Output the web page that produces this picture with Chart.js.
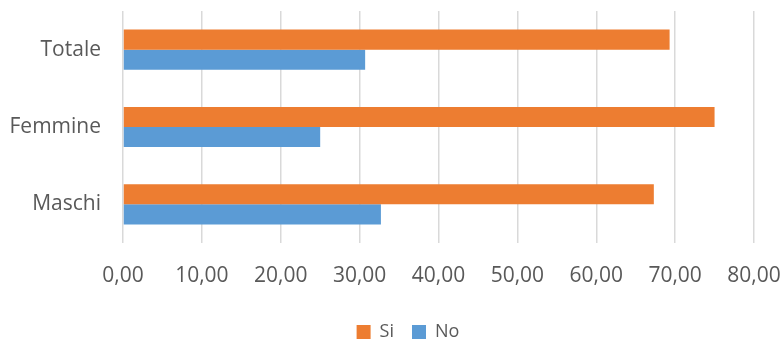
<!DOCTYPE html>
<html>
<head>
<meta charset="utf-8">
<script src="https://cdn.jsdelivr.net/npm/chart.js@4/dist/chart.umd.min.js"></script>
<style>
  html, body { margin: 0; padding: 0; background: #ffffff; }
  #wrap { width: 783px; height: 339px; }
</style>
</head>
<body>
<div id="wrap"><canvas id="chart"></canvas></div>
<script>
// Categories (top to bottom) and shares per answer
const categories = ['Totale', 'Femmine', 'Maschi'];
const siValues = [69.3, 75.0, 67.3];
const noValues = [30.7, 25.0, 32.7];
const seriesNames = ['Si', 'No'];
const xMin = 0, xMax = 80, xStep = 10;

const textColor = '#595959';
const gridColor = '#d9d9d9';

// Draws the legend row slightly right of centre and lower down
const legendOffset = {
  id: 'legendOffset',
  afterLayout(chart) {
    const lg = chart.legend;
    if (!lg || lg._offsetWrapped) return;
    const baseDraw = lg.draw.bind(lg);
    lg.draw = function (area) {
      const ctx = this.ctx;
      ctx.save();
      ctx.translate(31, 12);
      baseDraw(area);
      ctx.restore();
    };
    lg._offsetWrapped = true;
  }
};

new Chart(document.getElementById('chart'), {
  type: 'bar',
  data: {
    labels: categories,
    datasets: [
      { label: seriesNames[0], data: siValues, backgroundColor: '#ED7D31', borderWidth: 0 },
      { label: seriesNames[1], data: noValues, backgroundColor: '#5B9BD5', borderWidth: 0 }
    ]
  },
  options: {
    indexAxis: 'y',
    responsive: true,
    maintainAspectRatio: false,
    animation: false,
    datasets: { bar: { categoryPercentage: 0.52, barPercentage: 1.0 } },
    layout: { padding: { top: 11, left: 0, right: 29, bottom: 0 } },
    scales: {
      x: {
        min: xMin, max: xMax,
        border: { display: false },
        grid: { color: gridColor, lineWidth: 1.5, drawTicks: false },
        ticks: {
          stepSize: xStep,
          padding: 20,
          color: textColor,
          font: { family: 'Open Sans', size: 21 },
          callback: v => Number(v).toFixed(2).replace('.', ',')
        },
        afterFit: s => { s.height = 50; s.paddingLeft = 0; s.paddingRight = 0; }
      },
      y: {
        border: { display: false },
        grid: { display: false, drawTicks: false },
        ticks: {
          padding: 22,
          color: textColor,
          font: { family: 'Open Sans', size: 21 }
        },
        afterFit: s => { s.width = 123; s.paddingTop = 0; s.paddingBottom = 0; }
      }
    },
    plugins: {
      legend: {
        position: 'bottom',
        labels: {
          boxWidth: 14, boxHeight: 14,
          color: textColor,
          font: { family: 'Open Sans', size: 18 },
          padding: 18
        }
      },
      tooltip: { enabled: false }
    }
  },
  plugins: [legendOffset]
});
</script>
</body>
</html>
